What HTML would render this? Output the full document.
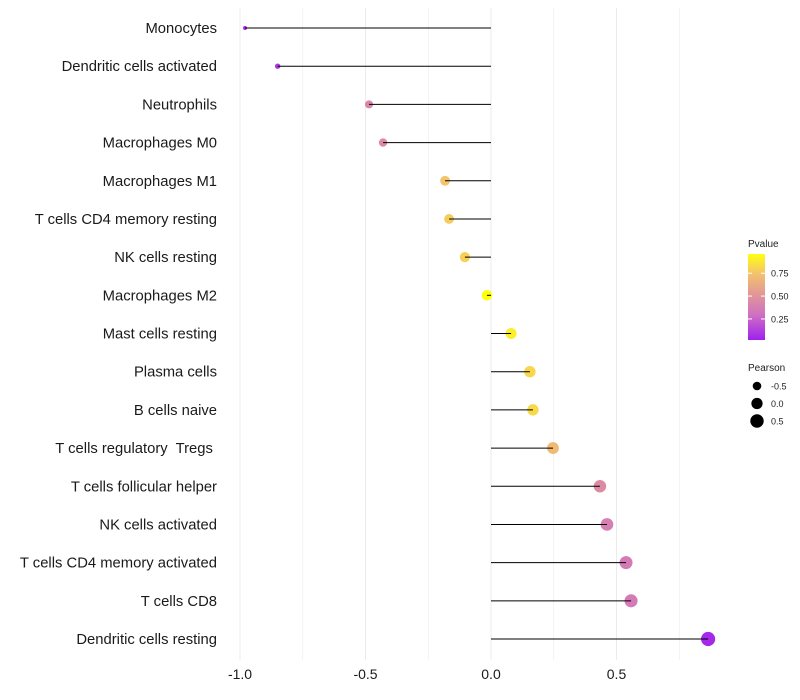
<!DOCTYPE html>
<html><head><meta charset="utf-8"><style>
body{margin:0;background:#fff}
svg{font-family:"Liberation Sans",sans-serif;display:block}
text{white-space:pre}
</style></head><body>
<svg id="chart" width="800" height="700">
<defs><linearGradient id="pg" x1="0" y1="1" x2="0" y2="0">
<stop offset="0" stop-color="#a020f0"/><stop offset="0.3" stop-color="#cf72c0"/><stop offset="0.55" stop-color="#e39a94"/><stop offset="0.78" stop-color="#f4c46a"/><stop offset="1" stop-color="#ffff10"/></linearGradient></defs>
<g id="grid"></g>
<g id="marks"></g>
<g id="ylab"></g>
<g id="xlab"></g>
<g>
<text x="748" y="247" font-size="10" fill="#222">Pvalue</text>
<rect x="748" y="254" width="17" height="86" fill="url(#pg)"/>
<g id="cbticks"></g>
</g>
<g>
<text x="748" y="371" font-size="10" fill="#222">Pearson</text>
<g id="sizeleg"></g>
</g>
</svg>
<script>
const categories=["Monocytes","Dendritic cells activated","Neutrophils","Macrophages M0","Macrophages M1","T cells CD4 memory resting","NK cells resting","Macrophages M2","Mast cells resting","Plasma cells","B cells naive","T cells regulatory  Tregs ","T cells follicular helper","NK cells activated","T cells CD4 memory activated","T cells CD8","Dendritic cells resting"];
const pearson=[-0.98,-0.85,-0.486,-0.43,-0.183,-0.167,-0.104,-0.016,0.08,0.155,0.167,0.247,0.434,0.462,0.538,0.558,0.865];
const pvalue=[0.05,0.1,0.42,0.45,0.75,0.78,0.8,0.98,0.9,0.82,0.83,0.7,0.45,0.38,0.35,0.35,0.05];
const xTicks=[-1.0,-0.5,0.0,0.5];
const xTickLabels=["-1.0","-0.5","0.0","0.5"];
const gridVals=[-1,-0.75,-0.5,-0.25,0,0.25,0.5,0.75];
const cbTicks=[0.25,0.5,0.75];
const cbTickLabels=["0.25","0.50","0.75"];
const sizeLegend=[-0.5,0,0.5];
const sizeLegendLabels=["-0.5","0.0","0.5"];
const NS="http://www.w3.org/2000/svg";
const x=v=>491+v*251;
const y=i=>28+i*(611/16);
const r=v=>Math.sqrt(Math.max(1,28.5+25*v));
const cy=p=>340-(p-0.02)/0.94*86;
const stops=[[0,[160,32,240]],[0.3,[207,114,192]],[0.55,[227,154,148]],[0.78,[244,196,106]],[1,[255,255,16]]];
function col(p){p=Math.max(0,Math.min(1,(p-0.02)/0.94));for(let k=1;k<stops.length;k++){if(p<=stops[k][0]){const a=stops[k-1],b=stops[k],t=(p-a[0])/(b[0]-a[0]);return "rgb("+a[1].map((c,j)=>Math.round(c+(b[1][j]-c)*t)).join(",")+")";}}return "rgb(255,255,16)";}
function mk(t,a,parent){const e=document.createElementNS(NS,t);for(const k in a)e.setAttribute(k,a[k]);document.getElementById(parent).appendChild(e);return e;}
gridVals.forEach(v=>{const l=mk("line",{x1:x(v),x2:x(v),y1:8,y2:660,stroke:"#ebebeb","stroke-width":v%0.5===0?1:0.6},"grid");

});
categories.forEach((c,i)=>{
const d=mk("circle",{cx:x(pearson[i]),cy:y(i),r:r(pearson[i]),fill:col(pvalue[i])},"marks");


const ln=mk("line",{x1:x(0),x2:x(pearson[i]),y1:y(i),y2:y(i),stroke:"#000","stroke-width":1},"marks");


const t=mk("text",{x:217,y:y(i)+5,"text-anchor":"end","font-size":14.8,fill:"#1a1a1a"},"ylab");t.textContent=c;


});
xTicks.forEach((v,i)=>{const t=mk("text",{x:x(v),y:679,"text-anchor":"middle","font-size":14,fill:"#1a1a1a"},"xlab");t.textContent=xTickLabels[i];

});
cbTicks.forEach((v,i)=>{mk("line",{x1:748,x2:752,y1:cy(v),y2:cy(v),stroke:"#fff"},"cbticks");mk("line",{x1:761,x2:765,y1:cy(v),y2:cy(v),stroke:"#fff"},"cbticks");
const t=mk("text",{x:771,y:cy(v)+3.5,"font-size":9,fill:"#222"},"cbticks");t.textContent=cbTickLabels[i];

});
sizeLegend.forEach((v,i)=>{const yy=386+i*17.5;
const c=mk("circle",{cx:757,cy:yy,r:r(v)+0.3,fill:"#000"},"sizeleg");


const t=mk("text",{x:771,y:yy+3.5,"font-size":9,fill:"#222"},"sizeleg");t.textContent=sizeLegendLabels[i];

});
</script>
</body></html>
